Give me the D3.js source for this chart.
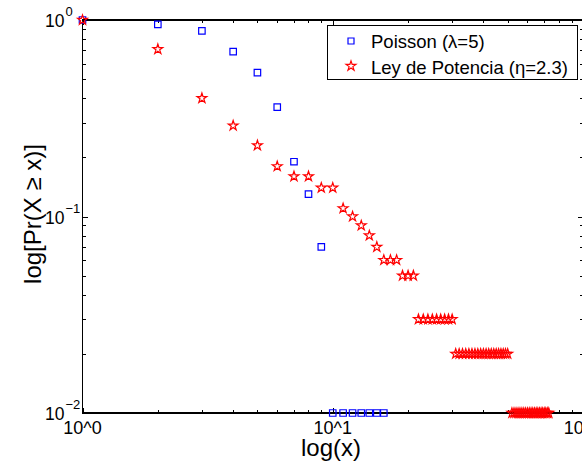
<!DOCTYPE html>
<html><head><meta charset="utf-8">
<script src="https://cdn.jsdelivr.net/npm/d3@7"></script>
<style>body{margin:0;background:#fff}svg{display:block}text{font-family:"Liberation Sans",Arial,sans-serif}</style>
</head><body><svg id="c" width="582" height="466"></svg>
<script>
const poissonX = [1,2,3,4,5,6,7,8,9,10,11,12,13,14,15,16];
const poissonY = [1,0.95,0.88,0.69,0.54,0.36,0.19,0.13,0.07,0.01,0.01,0.01,0.01,0.01,0.01,0.01];
const powerX = [1,2,3,4,5,6,7,8,9,10,11,12,13,14,15,16,17,18,19,20,21,
  22,23,24,25,26,27,28,29,30,
  31,32,33,34,35,36,37,38,39,40,41,42,43,44,45,46,47,48,49,50,
  52,53,54,55,56,57,58,59,60,61,62,63,64,65,66,67,68,69,70,71,72,73];
const powerY = [1,0.71,0.40,0.29,0.23,0.18,0.16,0.16,0.14,0.14,0.11,0.10,0.09,0.08,0.07,0.06,0.06,0.06,0.05,0.05,0.05,
  0.03,0.03,0.03,0.03,0.03,0.03,0.03,0.03,0.03,
  0.02,0.02,0.02,0.02,0.02,0.02,0.02,0.02,0.02,0.02,0.02,0.02,0.02,0.02,0.02,0.02,0.02,0.02,0.02,0.02,
  0.01,0.01,0.01,0.01,0.01,0.01,0.01,0.01,0.01,0.01,0.01,0.01,0.01,0.01,0.01,0.01,0.01,0.01,0.01,0.01,0.01,0.01];
const xTickVals = [1,10,100];
const xTickLabels = ["10^0","10^1","10^2"];
const yTickVals = [1,0.1,0.01];
const yTickExp = ["0","\u22121","\u22122"];
const seriesNames = ["Poisson (\u03bb=5)","Ley de Potencia (\u03b7=2.3)"];

const svg = d3.select("#c");
const L=82.5, T=20, R=583, B=413;
const x = d3.scaleLog().domain([1,100]).range([L,R]);
const y = d3.scaleLog().domain([0.01,1]).range([B,T]);

const minorX=[], minorY=[];
[1,10].forEach(d=>{for(let k=2;k<10;k++)minorX.push(d*k);});
[0.01,0.1].forEach(d=>{for(let k=2;k<10;k++)minorY.push(d*k);});
const g=svg.append("g").attr("stroke","#000").attr("stroke-width",1).attr("shape-rendering","crispEdges");
minorX.forEach(v=>{const px=Math.round(x(v))+0.5;
  g.append("line").attr("x1",px).attr("x2",px).attr("y1",B).attr("y2",B-3);
  g.append("line").attr("x1",px).attr("x2",px).attr("y1",T).attr("y2",T+3);});
xTickVals.forEach(v=>{const px=Math.round(x(v))+0.5;
  g.append("line").attr("x1",px).attr("x2",px).attr("y1",B).attr("y2",B-5);
  g.append("line").attr("x1",px).attr("x2",px).attr("y1",T).attr("y2",T+5);});
minorY.forEach(v=>{const py=Math.round(y(v))+0.5;
  g.append("line").attr("x1",L).attr("x2",L+3).attr("y1",py).attr("y2",py);
  g.append("line").attr("x1",R).attr("x2",R-3).attr("y1",py).attr("y2",py);});
yTickVals.forEach(v=>{const py=Math.round(y(v))+0.5;
  g.append("line").attr("x1",L).attr("x2",L+5).attr("y1",py).attr("y2",py);
  g.append("line").attr("x1",R).attr("x2",R-5).attr("y1",py).attr("y2",py);});
g.append("rect").attr("x",L).attr("y",T).attr("width",R-L).attr("height",B-T).attr("fill","none").attr("stroke-width",1.2);

xTickVals.forEach((v,i)=>{
  svg.append("text").attr("x",x(v)).attr("y",434).attr("text-anchor","middle").attr("font-size",18).text(xTickLabels[i]);
});
yTickVals.forEach((v,i)=>{
  const t=svg.append("text").attr("x",45).attr("y",y(v)+7).attr("text-anchor","start").attr("font-size",17.5);
  t.append("tspan").text("10");
  t.append("tspan").attr("dy",-11).attr("dx",1).attr("font-size",13).text(yTickExp[i]);
});
svg.append("text").attr("x",331).attr("y",456).attr("text-anchor","middle").attr("font-size",24).text("log(x)");
svg.append("text").attr("transform","translate(41,214) rotate(-90)").attr("text-anchor","middle").attr("font-size",24).text("log[Pr(X \u2265 x)]");

const sq=d3.symbol().type(d3.symbolSquare).size(42);
const st=d3.symbol().type(d3.symbolStar).size(30);
const pData=poissonX.map((v,i)=>[v,poissonY[i]]);
const wData=powerX.map((v,i)=>[v,powerY[i]]);
svg.append("g").selectAll("path").data(pData).join("path").attr("d",sq)
  .attr("transform",d=>`translate(${x(d[0])},${y(d[1])})`).attr("fill","none").attr("stroke","#0000ff").attr("stroke-width",1.2);
svg.append("g").selectAll("path").data(wData).join("path").attr("d",st)
  .attr("transform",d=>`translate(${x(d[0])},${y(d[1])})`).attr("fill","none").attr("stroke","#ff0000").attr("stroke-width",1.2);

const lg=svg.append("g");
lg.append("rect").attr("x",327.5).attr("y",25.5).attr("width",250).attr("height",54).attr("fill","#fff").attr("stroke","#000").attr("stroke-width",1);
lg.append("path").attr("d",d3.symbol().type(d3.symbolSquare).size(36)).attr("transform","translate(351,41)").attr("fill","none").attr("stroke","#0000ff").attr("stroke-width",1.2);
lg.append("path").attr("d",st).attr("transform","translate(351,66)").attr("fill","none").attr("stroke","#ff0000").attr("stroke-width",1.2);
lg.append("text").attr("x",371).attr("y",47.5).attr("font-size",18.5).text(seriesNames[0]);
lg.append("text").attr("x",371).attr("y",73.5).attr("font-size",18.5).text(seriesNames[1]);
</script></body></html>
